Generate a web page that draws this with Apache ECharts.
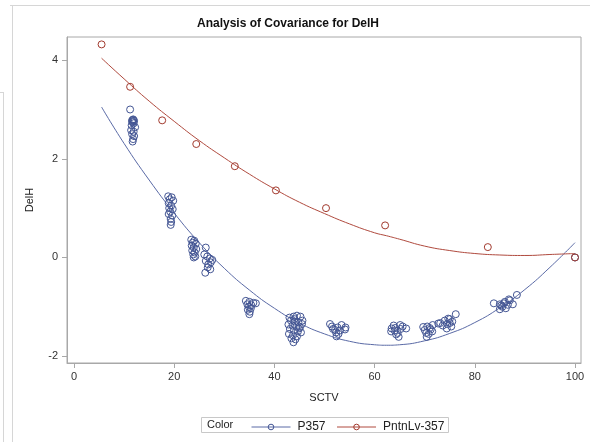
<!DOCTYPE html>
<html>
<head>
<meta charset="utf-8">
<script src="https://cdn.jsdelivr.net/npm/echarts@6/dist/echarts.min.js"></script>
<style>
html,body{margin:0;padding:0;background:#fff;}
#chart{width:590px;height:442px;}
</style>
</head>
<body>
<div id="chart"></div>
<script>
// ---- Data ----
var xTicks = [0, 20, 40, 60, 80, 100];
var yTicks = [-2, 0, 2, 4];

// P357 observations
var p357X = [
  11.2, 11.8, 11.6, 12.0, 11.7, 11.9, 11.5, 12.2, 11.4, 11.9, 11.6, 12.0, 11.8, 11.7, 11.8, 11.6,
  18.8, 19.5, 19.1, 19.8, 18.9, 19.4, 19.0, 19.7, 19.2, 18.9, 19.6, 19.3, 19.4, 19.3,
  23.4, 24.0, 23.7, 24.3, 23.5, 23.9, 24.4, 23.6, 24.1, 23.8, 24.2, 23.9,
  26.3, 26.0, 26.6, 27.1, 26.3, 27.3, 26.8, 27.6, 26.7, 27.2, 26.2,
  34.3, 35.0, 35.8, 34.6, 35.4, 34.9, 35.3, 34.7, 35.1, 35.0, 36.3,
  43.0, 43.8, 44.5, 45.2, 45.6, 43.3, 44.1, 44.8, 42.8, 43.6, 44.4, 45.1, 43.1, 43.9, 44.7, 45.3, 42.9, 43.7, 44.5, 43.4, 44.2, 43.8, 44.9, 45.5, 44.0,
  51.1, 54.2, 53.4, 52.1, 52.6, 51.7, 52.3, 52.8, 52.4, 53.1, 51.5, 54.1,
  63.4, 64.0, 64.6, 65.1, 63.8, 65.6, 66.3, 64.8, 64.3, 65.2, 64.1, 63.3,
  69.7, 70.5, 71.0, 71.6, 70.8, 70.4, 71.5, 72.7, 70.0, 71.2, 70.3,
  73.1, 74.0, 74.5, 75.0, 75.5, 76.2, 74.4, 75.3, 73.6, 74.7, 75.0,
  83.8, 85.0, 85.5, 86.0, 86.6, 87.0, 87.6, 88.4, 86.2, 85.3, 86.8, 85.8, 85.0,
  100.0
];
var p357Y = [
  3.00, 2.80, 2.78, 2.77, 2.74, 2.72, 2.68, 2.64, 2.58, 2.55, 2.50, 2.46, 2.40, 2.35, 2.79, 2.76,
  1.24, 1.22, 1.18, 1.15, 1.10, 1.05, 1.00, 0.98, 0.93, 0.88, 0.85, 0.78, 0.72, 0.66,
  0.36, 0.34, 0.30, 0.28, 0.24, 0.20, 0.17, 0.14, 0.10, 0.06, 0.02, 0.00,
  0.20, 0.06, 0.02, -0.02, -0.07, -0.10, -0.14, -0.05, -0.20, -0.24, -0.31,
  -0.88, -0.90, -0.92, -0.95, -0.97, -1.00, -1.03, -1.06, -1.10, -1.15, -0.93,
  -1.22, -1.20, -1.18, -1.20, -1.28, -1.28, -1.30, -1.32, -1.36, -1.38, -1.40, -1.42, -1.45, -1.48, -1.50, -1.52, -1.55, -1.58, -1.60, -1.64, -1.66, -1.72, -1.44, -1.35, -1.25,
  -1.35, -1.42, -1.37, -1.47, -1.42, -1.45, -1.52, -1.55, -1.60, -1.48, -1.40, -1.46,
  -1.44, -1.48, -1.53, -1.37, -1.38, -1.40, -1.44, -1.61, -1.56, -1.45, -1.43, -1.50,
  -1.41, -1.40, -1.43, -1.37, -1.55, -1.61, -1.50, -1.34, -1.47, -1.46, -1.53,
  -1.33, -1.28, -1.35, -1.25, -1.30, -1.15, -1.44, -1.40, -1.38, -1.24, -1.33,
  -0.93, -0.95, -1.00, -0.90, -0.96, -0.87, -0.95, -0.76, -1.03, -0.97, -0.85, -0.93, -1.05,
  0.00
];

// PntnLv-357 observations
var pntnX = [5.5, 11.2, 17.6, 24.4, 32.1, 40.3, 50.3, 62.1, 82.6, 100.0];
var pntnY = [4.32, 3.46, 2.78, 2.30, 1.85, 1.36, 1.00, 0.65, 0.21, 0.00];

// Fitted curves
var fitX     = [5.5, 10, 15, 20, 25, 30, 35, 40, 45, 50, 55, 60, 62.4, 65, 70, 75, 80, 85, 90, 95, 100];
var p357Fit  = [3.05, 2.31, 1.57, 0.90, 0.30, -0.22, -0.66, -1.03, -1.33, -1.55, -1.70, -1.77, -1.78, -1.77, -1.69, -1.54, -1.32, -1.02, -0.65, -0.20, 0.30];
var pntnFit  = [4.04, 3.62, 3.17, 2.76, 2.37, 2.02, 1.69, 1.39, 1.12, 0.89, 0.68, 0.50, 0.44, 0.37, 0.23, 0.14, 0.08, 0.05, 0.04, 0.06, 0.08];

// ---- Build ----
function zip(a, b) { var r = []; for (var i = 0; i < a.length; i++) r.push([a[i], b[i]]); return r; }

var BLUE = '#445694';
var RED = '#A23A2E';
var BLUE_LINE = '#5a6aa6';
var RED_LINE = '#b04a3e';
var AXIS = '#a8a8a8';
var FONT = '"Liberation Sans", Arial, sans-serif';

var chart = echarts.init(document.getElementById('chart'), null, {renderer: 'canvas'});
chart.setOption({
  animation: false,
  backgroundColor: '#ffffff',
  textStyle: {fontFamily: FONT},
  grid: {left: 67, right: 9, top: 37, bottom: 79, show: true, borderColor: AXIS, borderWidth: 1, containLabel: false},
  xAxis: {
    type: 'value', min: -1.4, max: 101.2,
    name: 'SCTV', nameLocation: 'middle', nameGap: 29,
    nameTextStyle: {fontFamily: FONT, fontSize: 11, color: '#222'},
    axisLine: {show: true, onZero: false, lineStyle: {color: AXIS}},
    axisTick: {show: true, length: 5, lineStyle: {color: AXIS}, customValues: xTicks},
    axisLabel: {fontFamily: FONT, fontSize: 11, color: '#333', margin: 8, customValues: xTicks},
    splitLine: {show: false}
  },
  yAxis: {
    type: 'value', min: -2.14, max: 4.47,
    name: 'DelH', nameLocation: 'middle', nameGap: 32, nameRotate: 90,
    nameTextStyle: {fontFamily: FONT, fontSize: 11, color: '#222'},
    axisLine: {show: true, onZero: false, lineStyle: {color: AXIS}},
    axisTick: {show: true, length: 5, lineStyle: {color: AXIS}, customValues: yTicks},
    axisLabel: {fontFamily: FONT, fontSize: 11, color: '#333', margin: 9, customValues: yTicks},
    splitLine: {show: false}
  },
  legend: {
    left: 251, top: 421, padding: 0, itemWidth: 39, itemHeight: 7, itemGap: 11,
    textStyle: {fontFamily: FONT, fontSize: 12, color: '#222', padding: [0, 0, 0, 2]},
    itemStyle: {borderWidth: 1, color: 'transparent'},
    lineStyle: {width: 1},
    data: ['P357', 'PntnLv-357']
  },
  series: [
    {
      name: 'P357', type: 'line', data: zip(fitX, p357Fit), smooth: true,
      symbol: 'circle', symbolSize: 6, showSymbol: false,
      itemStyle: {color: 'transparent', borderColor: BLUE, borderWidth: 1}, lineStyle: {color: BLUE_LINE, width: 1}, z: 2
    },
    {
      name: 'PntnLv-357', type: 'line', data: zip(fitX, pntnFit), smooth: true,
      symbol: 'circle', symbolSize: 6, showSymbol: false,
      itemStyle: {color: 'transparent', borderColor: RED, borderWidth: 1}, lineStyle: {color: RED_LINE, width: 1}, z: 2
    },
    {
      name: 'P357', type: 'scatter', data: zip(p357X, p357Y),
      symbol: 'circle', symbolSize: 7,
      itemStyle: {color: 'transparent', borderColor: BLUE, borderWidth: 1, opacity: 1}, z: 3
    },
    {
      name: 'PntnLv-357', type: 'scatter', data: zip(pntnX, pntnY),
      symbol: 'circle', symbolSize: 7,
      itemStyle: {color: 'transparent', borderColor: RED, borderWidth: 1, opacity: 1}, z: 4
    }
  ],
  graphic: [
    {type: 'line', shape: {x1: 10, y1: 5.5, x2: 590, y2: 5.5}, style: {stroke: '#d6d6d6', lineWidth: 1}, silent: true},
    {type: 'line', shape: {x1: 12.5, y1: 5, x2: 12.5, y2: 442}, style: {stroke: '#d6d6d6', lineWidth: 1}, silent: true},
    {type: 'line', shape: {x1: 0, y1: 92.5, x2: 3.5, y2: 92.5}, style: {stroke: '#d6d6d6', lineWidth: 1}, silent: true},
    {type: 'line', shape: {x1: 3.5, y1: 92, x2: 3.5, y2: 442}, style: {stroke: '#d6d6d6', lineWidth: 1}, silent: true},
    {type: 'text', x: 288, y: 24, style: {text: 'Analysis of Covariance for DelH', font: 'bold 12px ' + FONT, fill: '#111', textAlign: 'center', textVerticalAlign: 'middle'}},
    {type: 'rect', shape: {x: 201.5, y: 417.5, width: 247, height: 15}, style: {fill: 'none', stroke: '#c8c8c8', lineWidth: 1}, silent: true},
    {type: 'text', x: 207, y: 425, style: {text: 'Color', font: '11px ' + FONT, fill: '#222', textVerticalAlign: 'middle'}}
  ]
});
</script>
</body>
</html>
